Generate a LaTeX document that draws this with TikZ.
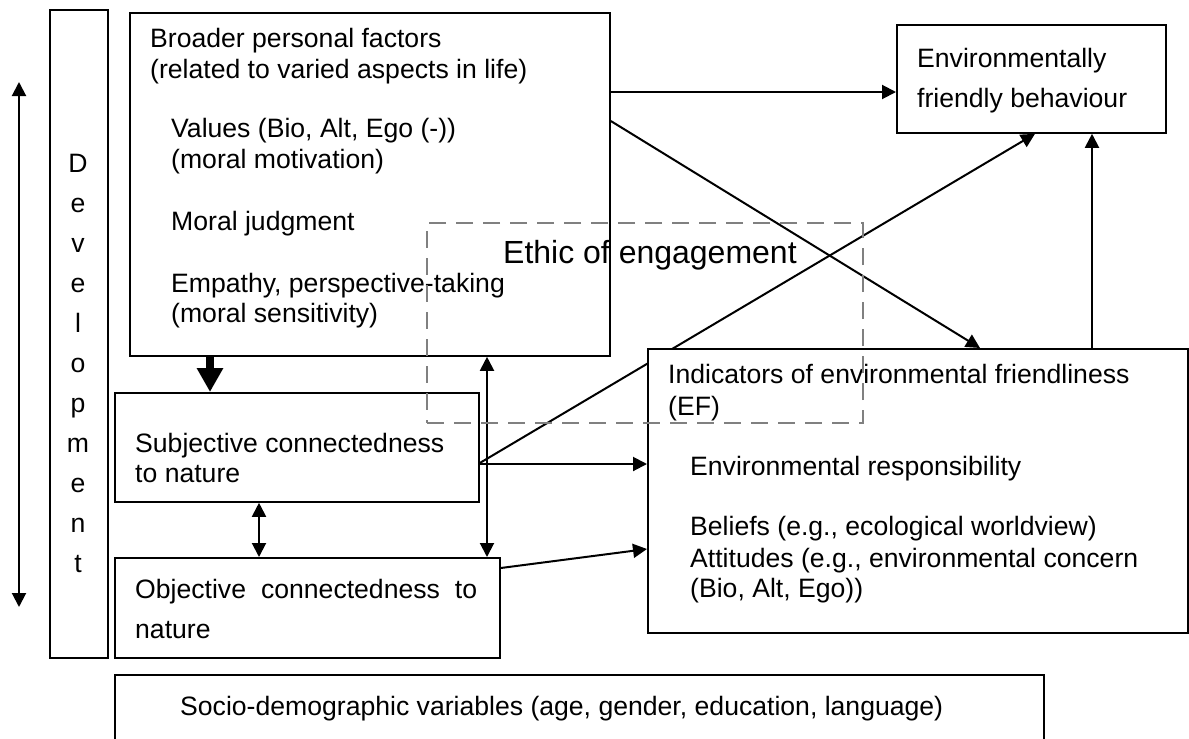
\documentclass[tikz,border=0pt]{standalone}
\usepackage{fontspec}
\setmainfont{Liberation Sans}
\usetikzlibrary{arrows.meta}
\definecolor{dashgray}{RGB}{128,128,128}
\begin{document}
\begin{tikzpicture}[x=1pt,y=-1pt,
  box/.style={draw, line width=1.8pt, fill=white, inner sep=0pt, anchor=north west},
  txt/.style={anchor=base west, inner sep=0pt, font=\fontsize{26.6}{31}\selectfont},
  arr/.style={line width=2pt, -{Triangle[length=14pt,width=14pt]}},
  dblarr/.style={line width=2pt, {Triangle[length=14pt,width=14pt]}-{Triangle[length=14pt,width=14pt]}},
  thickarr/.style={line width=8pt, -{Triangle[length=24pt,width=25pt]}},
  ethicbox/.style={draw=dashgray, line width=2pt, dash pattern=on 17pt off 10pt, inner sep=0pt, anchor=north west}]
\useasboundingbox (0,0) rectangle (1189,739);

% coordinates for the development axis
\coordinate (devtop) at (19,82);
\coordinate (devbot) at (19,607);

% connectors drawn first so that filled boxes sit on top
\path (129,12) node[box, minimum width=480pt, minimum height=343pt, draw=none, fill=none] (broader) {};
\path (896,24) node[box, minimum width=269pt, minimum height=108pt, draw=none, fill=none] (envb) {};
\path (114,392) node[box, minimum width=364pt, minimum height=109pt, draw=none, fill=none] (subj) {};
\path (114,557) node[box, minimum width=385pt, minimum height=100pt, draw=none, fill=none] (obj) {};
\path (647,348) node[box, minimum width=541pt, minimum height=284pt, draw=none, fill=none] (indic) {};

\draw[dblarr] (devtop) -- (devbot);
\draw[arr] (broader.east |- 0,92) -- (envb.west |- 0,92);
\draw[arr] (broader.east |- 0,121) -- (indic.north -| 980,0);
\draw[arr] (subj.east |- 0,463) -- (envb.south -| 1035,0);
\draw[arr] (subj.east |- 0,464) -- (indic.west |- 0,464);
\draw[arr] (obj.east |- 0,568) -- (indic.west |- 0,549);
\draw[arr] (indic.north -| 1092,0) -- (envb.south -| 1092,0);
\draw[thickarr] (broader.south -| 210,0) -- (subj.north -| 210,0);
\draw[dblarr] (subj.south -| 259,0) -- (obj.north -| 259,0);
\draw[dblarr] (broader.south -| 487,0) -- (obj.north -| 487,0);

% boxes
\node[box, minimum width=58pt, minimum height=648pt] (dev) at (49,9) {};
\node[box, minimum width=480pt, minimum height=343pt] (broaderbox) at (129,12) {};
\node[box, minimum width=269pt, minimum height=108pt] (envbbox) at (896,24) {};
\node[box, minimum width=364pt, minimum height=109pt] (subjbox) at (114,392) {};
\node[box, minimum width=385pt, minimum height=100pt] (objbox) at (114,557) {};
\node[box, minimum width=540pt, minimum height=284pt] (indicbox) at (647,348) {};
\node[box, minimum width=929pt, minimum height=66pt] (socio) at (114,674) {};

% development letters
\foreach \l [count=\i] in {D,e,v,e,l,o,p,m,e,n,t}
  \node[txt, anchor=base] (dev-\i) at (78,{172+40*(\i-1)}) {\l};

% broader personal factors
\node[txt] (b1) at (150,47) {Broader personal factors};
\node[txt] (b2) at (150,78) {(related to varied aspects in life)};
\node[txt] (b3) at (171,137) {Values (Bio, Alt, Ego (-))};
\node[txt] (b4) at (171,168) {(moral motivation)};
\node[txt] (b5) at (171,230) {Moral judgment};
\node[txt] (b6) at (171,292) {Empathy, perspective-taking};
\node[txt] (b7) at (171,322) {(moral sensitivity)};

% environmentally friendly behaviour
\node[txt] (e1) at (917,67) {Environmentally};
\node[txt] (e2) at (917,107) {friendly behaviour};

% connectedness to nature
\node[txt] (s1) at (135,452) {Subjective connectedness};
\node[txt] (s2) at (135,482) {to nature};
\node[txt] (o1) at (135,598) {\hbox to 342pt{Objective\hfill connectedness\hfill to}};
\node[txt] (o2) at (135,638) {nature};

% indicators of environmental friendliness
\node[txt] (i1) at (668,383) {Indicators of environmental friendliness};
\node[txt] (i2) at (668,415) {(EF)};
\node[txt] (i3) at (690,475) {Environmental responsibility};
\node[txt] (i4) at (690,535) {Beliefs (e.g., ecological worldview)};
\node[txt] (i5) at (690,567) {Attitudes (e.g., environmental concern};
\node[txt] (i6) at (690,597) {(Bio, Alt, Ego))};

% socio-demographic variables
\node[txt] (sd) at (180,715) {Socio-demographic variables (age, gender, education, language)};

% ethic of engagement
\node[ethicbox, minimum width=436pt, minimum height=200pt] (ethic) at (426,222) {};
\node[txt, font=\fontsize{32}{38}\selectfont] (ethiclabel) at (503,263) {Ethic of engagement};
\end{tikzpicture}
\end{document}
